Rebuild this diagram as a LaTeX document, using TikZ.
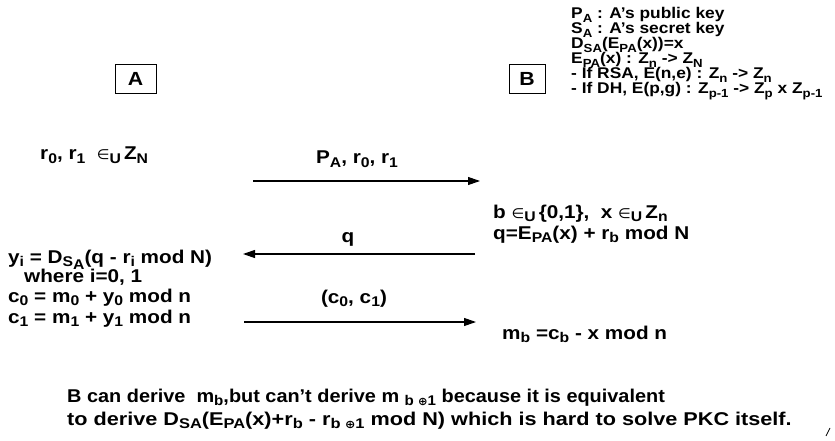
\documentclass[tikz,border=0pt]{standalone}
\usepackage{fontspec}
\setmainfont{Liberation Sans}[FakeStretch=1.12]
\newfontfamily\djv{DejaVu Sans}[FakeStretch=1.05]
\usepackage{graphicx}
\usetikzlibrary{arrows.meta}
\newcommand{\dn}[1]{\raisebox{-0.4ex}{\scalebox{0.76}{#1}}}
\newcommand{\elu}{{\djv\mdseries\scalebox{0.75}{∈}}\dn{U}}
\newcommand{\xr}{{\djv\scalebox{0.8}{⊕}}}
\begin{document}
\begin{tikzpicture}[x=1pt,y=-1pt,
  txt/.style={inner sep=0pt, anchor=base west, font=\fontsize{18.5}{20}\selectfont\bfseries},
  small/.style={inner sep=0pt, anchor=base west, font=\fontsize{15.5}{16}\selectfont\bfseries},
  lbl/.style={inner sep=0pt, anchor=base, font=\fontsize{18.5}{20}\selectfont\bfseries},
  party/.style={draw, line width=1pt, minimum width=41pt, minimum height=29pt, inner sep=0pt, font=\fontsize{19}{20}\selectfont\bfseries},
  msg/.style={line width=1.1pt, -{Triangle[length=12pt,width=8pt]}}]
\useasboundingbox (0,0) rectangle (835,441);
% parties
\node[party] (A) at (135.5,79) {A};
\node[party, minimum width=36pt] (B) at (527,79) {B};
% top-right notes
\node[small] (n1) at (571,19) {P\dn{A} : A’s public key};
\node[small] (n2) at (571,34) {S\dn{A} : A’s secret key};
\node[small] (n3) at (571,49) {D\dn{SA}(E\dn{PA}(x))=x};
\node[small] (n4) at (571,64) {E\dn{PA}(x) : Z\dn{n} -> Z\dn{N}};
\node[small] (n5) at (571,79) {- If RSA, E(n,e) : Z\dn{n} -> Z\dn{n}};
\node[small] (n6) at (571,94) {- If DH, E(p,g) : Z\dn{p-1} -> Z\dn{p} x Z\dn{p-1}};
% A side
\node[txt] (r) at (40,160) {r\dn{0}, r\dn{1}\ \ \elu\,Z\dn{N}};
\node[txt] (y) at (8,263) {y\dn{i} = D\dn{S\raisebox{-0.3ex}{A}}(q - r\dn{i} mod N)};
\node[txt] (w) at (24,282) {where i=0, 1};
\node[txt] (c0) at (8,302) {c\dn{0} = m\dn{0} + y\dn{0} mod n};
\node[txt] (c1) at (8,323) {c\dn{1} = m\dn{1} + y\dn{1} mod n};
% B side
\node[txt] (b) at (493,218) {b \elu\,\{0,1\},\ \ x \elu\,Z\dn{n}};
\node[txt] (q) at (493,239) {q=E\dn{PA}(x) + r\dn{b} mod N};
\node[txt] (m) at (502,339) {m\dn{b} =c\dn{b} - x mod n};
% messages
\coordinate (s1) at (253,181);
\coordinate (e1) at (480,181);
\coordinate (s2) at (475,254);
\coordinate (e2) at (243,254);
\coordinate (s3) at (244,322);
\coordinate (e3) at (476,322);
\draw[msg] (s1) -- (e1);
\draw[msg] (s2) -- (e2);
\draw[msg] (s3) -- (e3);
\node[lbl] (l1) at (357,164) {P\dn{A}, r\dn{0}, r\dn{1}};
\node[lbl] (l2) at (348,242) {q};
\node[lbl] (l3) at (354,303) {(c\dn{0}, c\dn{1})};
% conclusion
\node[txt] (t1) at (67,402) {\scalebox{0.96}[1]{B can derive\ \ m\dn{b},but can’t derive m \dn{b \xr1} because it is equivalent}};
\node[txt] (t2) at (67,425) {\scalebox{1.045}[1]{to derive D\dn{SA}(E\dn{PA}(x)+r\dn{b} - r\dn{b \xr1} mod N) which is hard to solve PKC itself.}};
% stray mark
\coordinate (k1) at (826,436);
\coordinate (k2) at (830,428);
\draw[line width=0.8pt] (k1) -- (k2);
\end{tikzpicture}
\end{document}
